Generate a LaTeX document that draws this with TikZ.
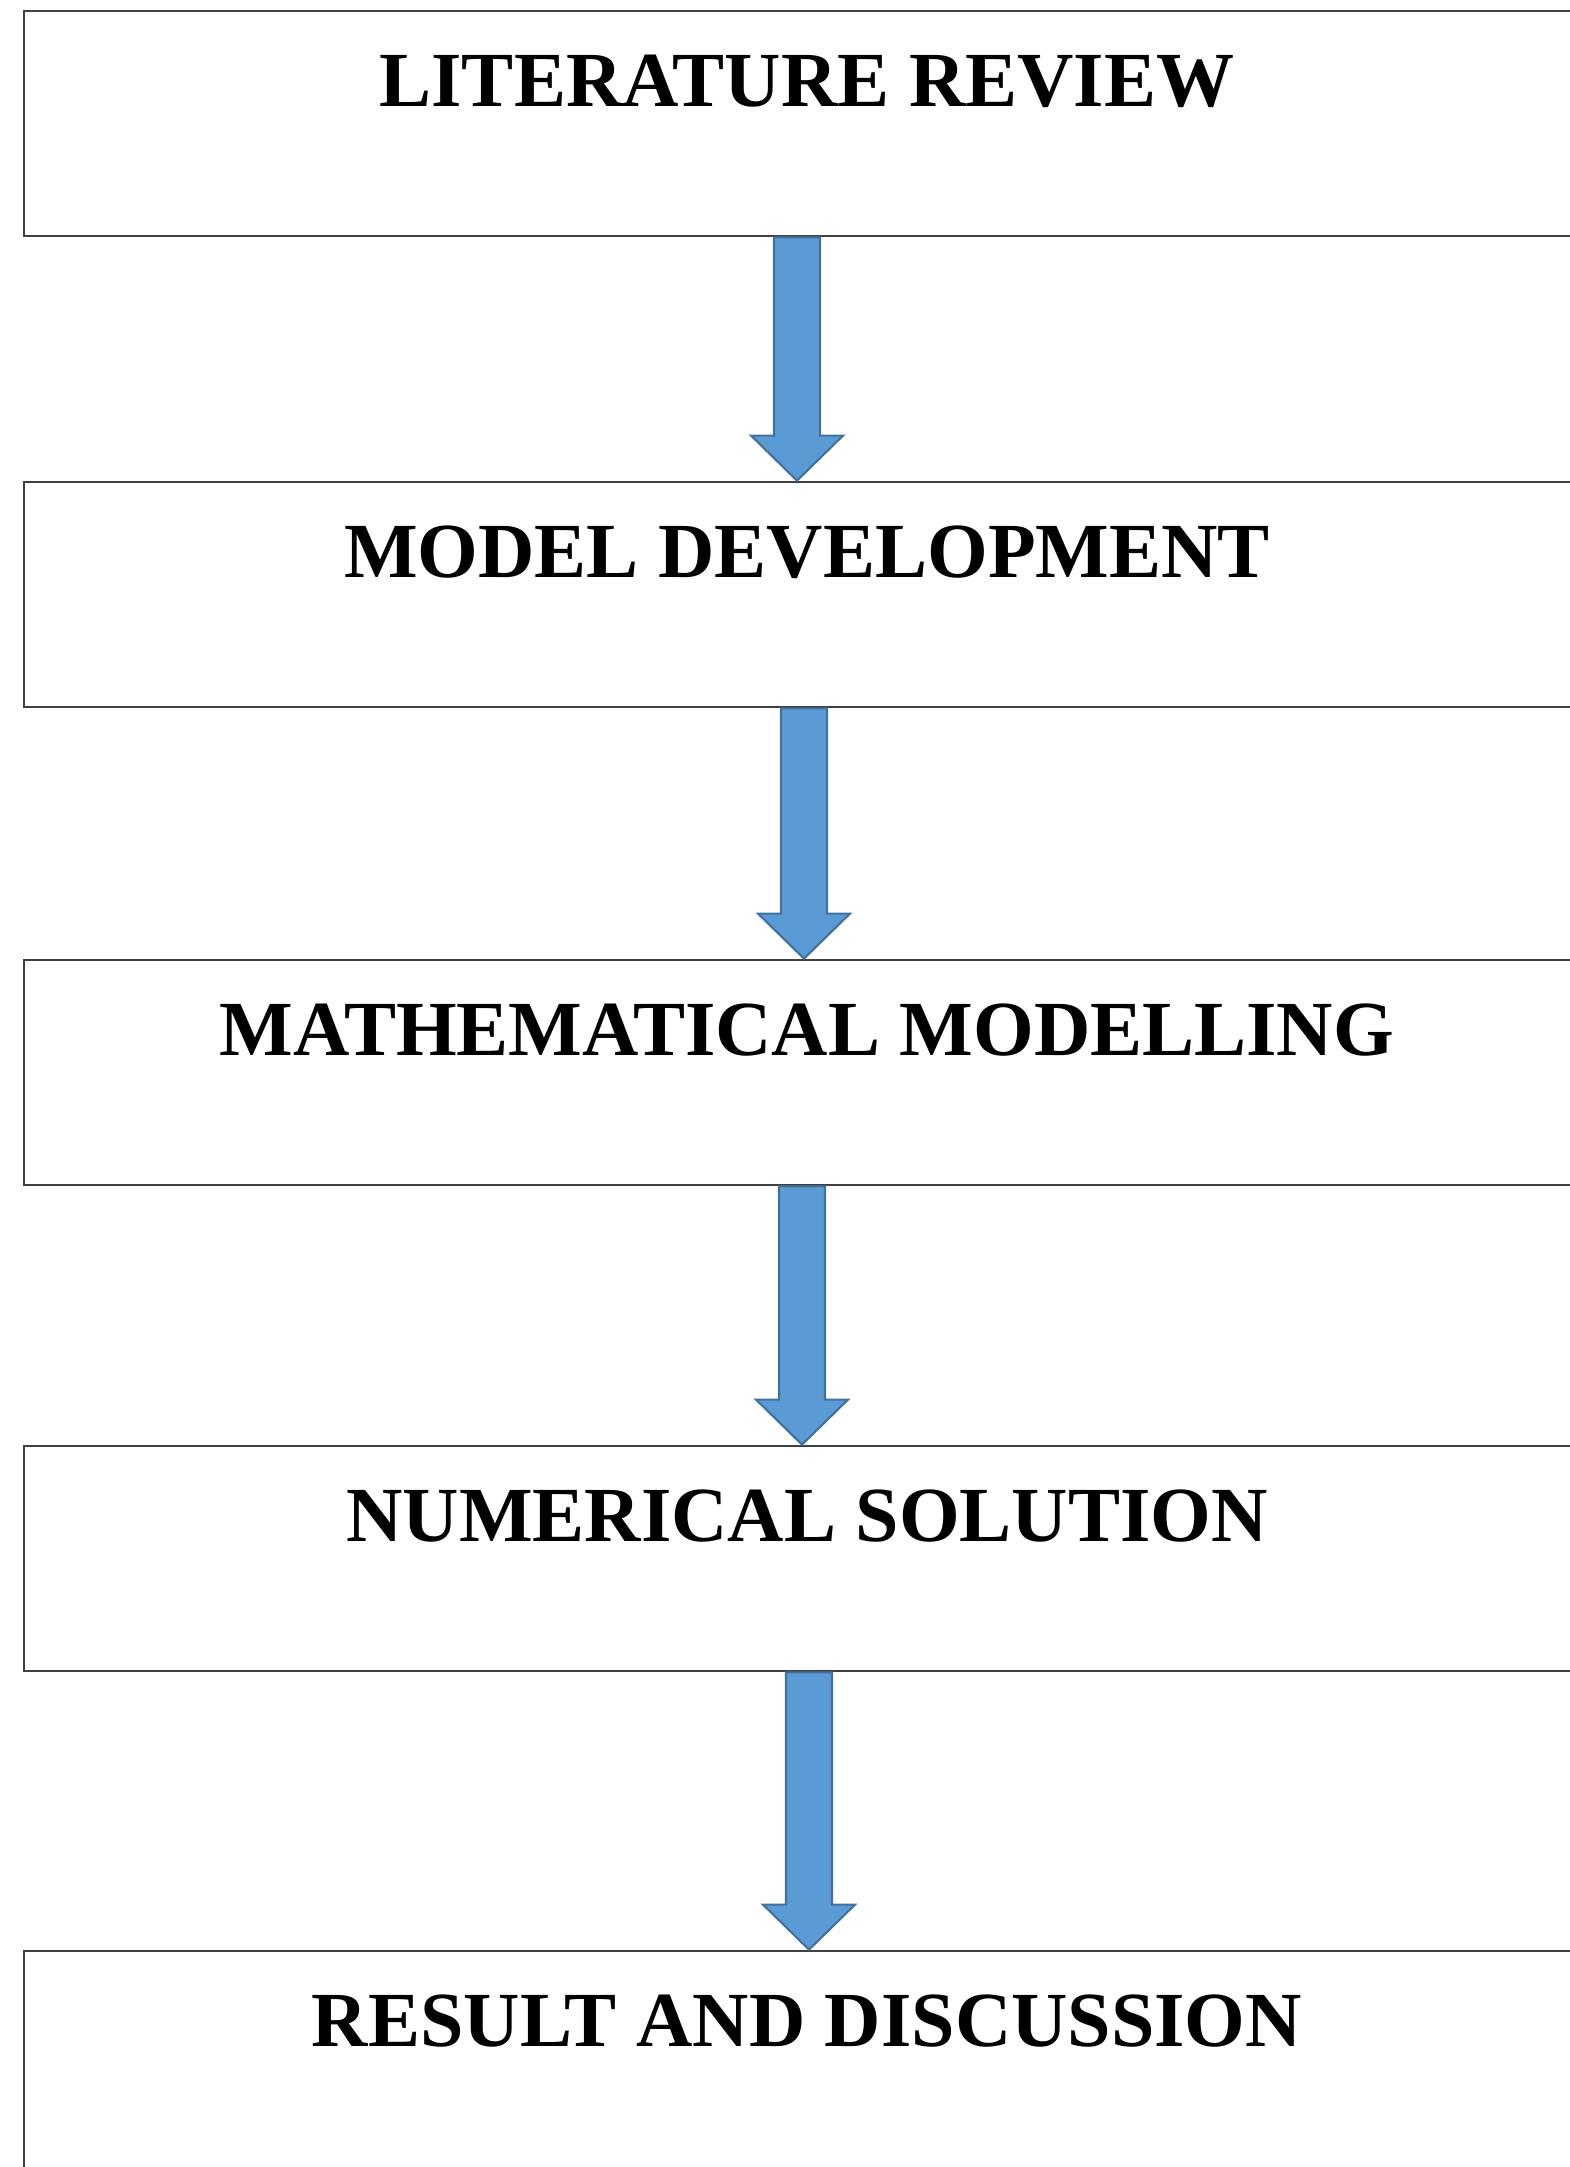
\documentclass[tikz,border=0pt]{standalone}
\usepackage{fontspec}
\setmainfont{Liberation Serif}
\usepackage{tikz}
\usetikzlibrary{calc, positioning}

\definecolor{arrowfill}{HTML}{5B9BD5}
\definecolor{arrowline}{HTML}{41719C}
\definecolor{boxline}{HTML}{404040}

\tikzset{
  stagebox/.style={draw=boxline, line width=0.8pt, rectangle, inner sep=0pt,
    minimum width=15.66cm, minimum height=2.25cm,
    text height=0.515cm, text depth=0.86cm,
    font=\fontsize{22.2}{26}\selectfont\bfseries},
  blockarrow/.style={fill=arrowfill, draw=arrowline, line width=0.6pt, line join=miter}
}

% flecha gruesa de un cuadro al siguiente (desplazamiento horizontal en cm)
\newcommand{\flowarrow}[3]{%
  \draw[blockarrow] let \p1=([xshift=#3cm]#1.south), \p2=(#2.north) in
    (\x1-0.23cm,\y1) -- (\x1+0.23cm,\y1) -- (\x1+0.23cm,\y2+0.45cm)
    -- (\x1+0.46cm,\y2+0.45cm) -- (\x1,\y2) -- (\x1-0.46cm,\y2+0.45cm)
    -- (\x1-0.23cm,\y2+0.45cm) -- cycle;}

\begin{document}
\begin{tikzpicture}
    % Marco de la imagen
    \useasboundingbox (0,0) rectangle (15.7,-21.67);
    \clip (0,0) rectangle (15.7,-21.67);

    % Etapas
    \node[stagebox] (lit)    at (8.07,-1.235)  {LITERATURE REVIEW};
    \node[stagebox] (model)  at (8.07,-5.945)  {MODEL DEVELOPMENT};
    \node[stagebox] (math)   at (8.07,-10.725) {MATHEMATICAL MODELLING};
    \node[stagebox] (num)    at (8.07,-15.585) {NUMERICAL SOLUTION};
    \node[stagebox] (result) at (8.07,-20.635) {RESULT AND DISCUSSION};

    % Flechas entre etapas
    \flowarrow{lit}{model}{-0.10}
    \flowarrow{model}{math}{-0.03}
    \flowarrow{math}{num}{-0.05}
    \flowarrow{num}{result}{0.02}
\end{tikzpicture}
\end{document}
